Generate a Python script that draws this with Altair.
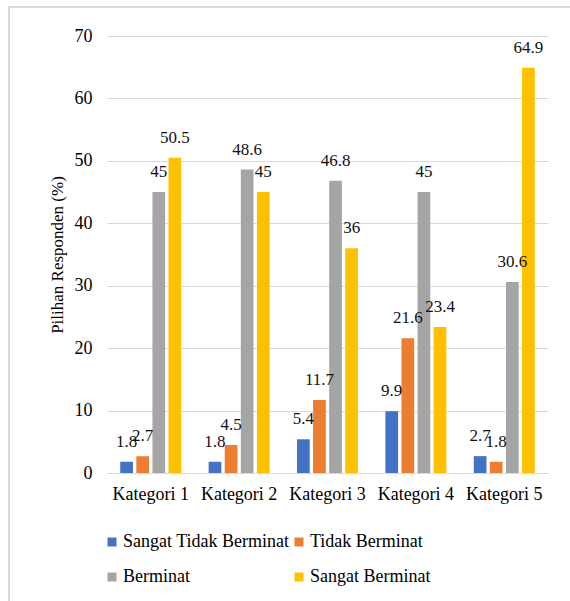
import altair as alt
import pandas as pd

categories = ["Kategori 1", "Kategori 2", "Kategori 3", "Kategori 4", "Kategori 5"]
series = ["Sangat Tidak Berminat", "Tidak Berminat", "Berminat", "Sangat Berminat"]
colors = ["#4472C4", "#ED7D31", "#A5A5A5", "#FFC000"]
values = {
    "Sangat Tidak Berminat": [1.8, 1.8, 5.4, 9.9, 2.7],
    "Tidak Berminat": [2.7, 4.5, 11.7, 21.6, 1.8],
    "Berminat": [45, 48.6, 46.8, 45, 30.6],
    "Sangat Berminat": [50.5, 45, 36, 23.4, 64.9],
}
y_ticks = [0, 10, 20, 30, 40, 50, 60, 70]

rows = []
for s in series:
    for c, v in zip(categories, values[s]):
        rows.append({"Kategori": c, "Seri": s, "Nilai": v, "Label": f"{v:g}"})
df = pd.DataFrame(rows)

FONT = "Times New Roman"

x_enc = alt.X("Kategori:N", sort=categories, title=None,
              scale=alt.Scale(paddingInner=0.31, paddingOuter=0.15),
              axis=alt.Axis(labelAngle=0, labelFontSize=18, labelFont=FONT,
                            labelColor="#000", labelPadding=12, domain=False,
                            ticks=False, grid=False))
xoff = alt.XOffset("Seri:N", sort=series,
                   scale=alt.Scale(paddingInner=0.21, paddingOuter=0))
y_enc = alt.Y("Nilai:Q", title="Pilihan Responden (%)",
              scale=alt.Scale(domain=[0, 70], nice=False),
              axis=alt.Axis(values=y_ticks, labelFontSize=18, labelFont=FONT,
                            labelColor="#000", labelPadding=15, domain=False,
                            ticks=False, grid=True, gridColor="#d9d9d9",
                            gridWidth=1.2, titleFontSize=17, titleFont=FONT,
                            titleFontWeight="normal", titleColor="#000",
                            titlePadding=8))

base = alt.Chart(df)

bars = base.mark_bar().encode(
    x=x_enc,
    xOffset=xoff,
    y=y_enc,
    color=alt.Color("Seri:N", sort=series,
                    scale=alt.Scale(domain=series, range=colors),
                    legend=alt.Legend(title=None, orient="none", legendX=-4,
                                      legendY=497, columns=2,
                                      direction="horizontal",
                                      symbolType="square", symbolSize=81,
                                      symbolStrokeWidth=0, labelFont=FONT,
                                      labelFontSize=18, labelColor="#000",
                                      labelLimit=400,
                                      rowPadding=17, columnPadding=0,
                                      labelOffset=2, padding=0)),
)

labels = base.mark_text(font=FONT, fontSize=17, color="#111",
                        baseline="alphabetic", dy=-15).encode(
    x=alt.X("Kategori:N", sort=categories),
    xOffset=alt.XOffset("Seri:N", sort=series),
    y="Nilai:Q",
    text="Label:N",
)

frame_df = pd.DataFrame({"k": [0]})
left_border = alt.Chart(frame_df).mark_rule(color="#d9d9d9", strokeWidth=2).encode(
    x=alt.value(-98), y=alt.value(-29), y2=alt.value(600))
top_border = alt.Chart(frame_df).mark_rule(color="#d9d9d9", strokeWidth=2).encode(
    x=alt.value(-99), x2=alt.value(500), y=alt.value(-29))

chart = alt.layer(bars, labels, left_border, top_border).properties(
    width=441, height=437,
    autosize=alt.AutoSizeParams(type="none"),
    padding={"left": 107, "top": 36, "right": 22, "bottom": 128},
    background="white",
).configure_view(stroke=None)

chart.save("out.html", embed_options={"renderer": "svg", "actions": False})
